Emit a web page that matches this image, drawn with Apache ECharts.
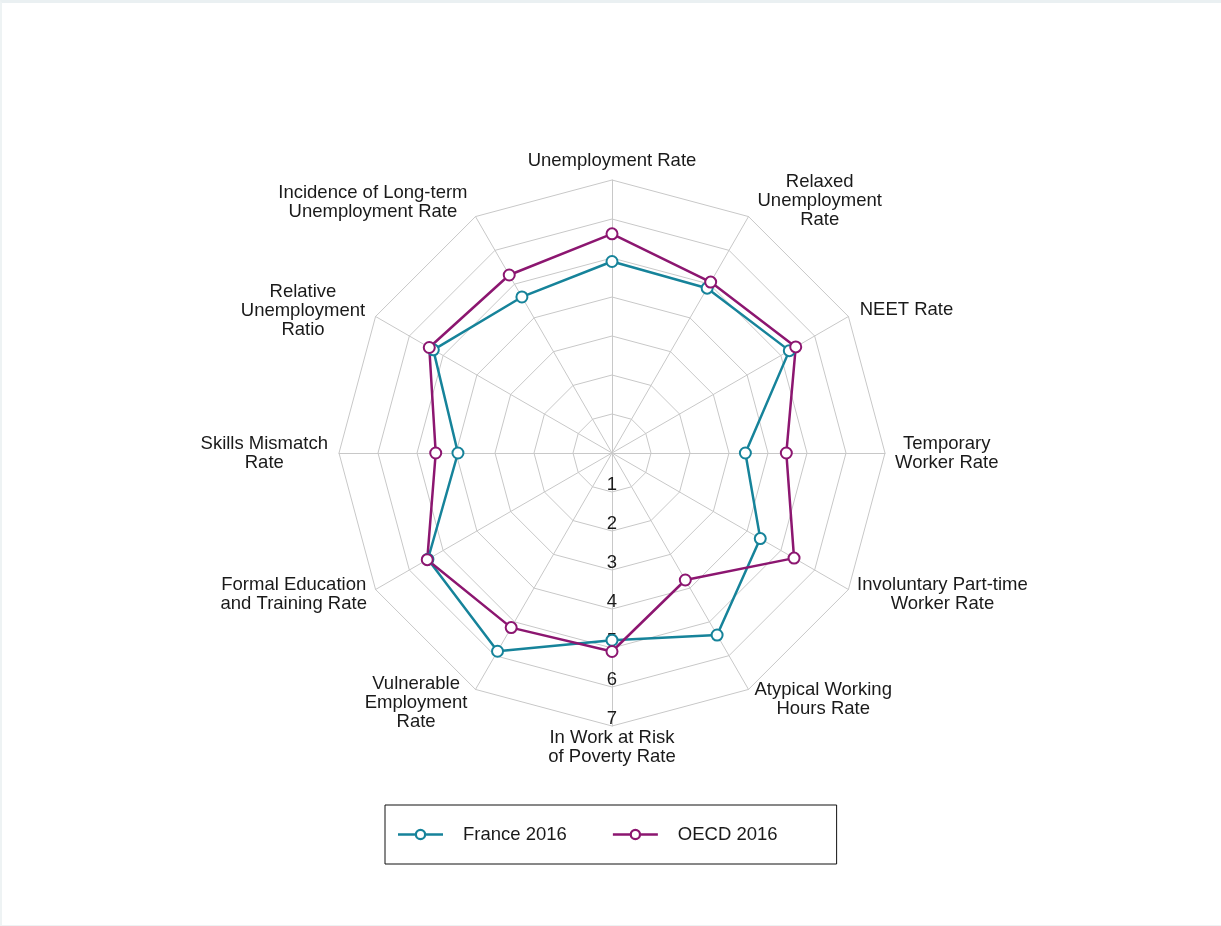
<!DOCTYPE html>
<html>
<head>
<meta charset="utf-8">
<script src="https://cdn.jsdelivr.net/npm/echarts@6/dist/echarts.min.js"></script>
<style>
  html, body { margin: 0; padding: 0; background: #ffffff; }
  #frame { position: absolute; left: 0; top: 0; width: 1219px; height: 922px;
           border-top: 3px solid #eaf0f2; border-left: 2px solid #eef3f4; border-bottom: 1px solid #eef2f3; }
  #chart { position: absolute; left: 0; top: 0; width: 1221px; height: 926px; }
</style>
</head>
<body>
<div id="frame"></div>
<div id="chart"></div>
<script>
// ---- data (clockwise from the top, as in the picture) ----
const categories = [
  'Unemployment Rate',
  'Relaxed\nUnemployment\nRate',
  'NEET Rate',
  'Temporary\nWorker Rate',
  'Involuntary Part-time\nWorker Rate',
  'Atypical Working\nHours Rate',
  'In Work at Risk\nof Poverty Rate',
  'Vulnerable\nEmployment\nRate',
  'Formal Education\nand Training Rate',
  'Skills Mismatch\nRate',
  'Relative\nUnemployment\nRatio',
  'Incidence of Long-term\nUnemployment Rate'
];
const france2016 = [4.91, 4.88, 5.25, 3.42, 4.39, 5.39, 4.80, 5.87, 5.45, 3.95, 5.29, 4.62];
const oecd2016   = [5.62, 5.06, 5.44, 4.47, 5.39, 3.76, 5.09, 5.17, 5.47, 4.52, 5.41, 5.27];
const seriesNames = ['France 2016', 'OECD 2016'];
const scaleMin = 0;
const scaleMax = 7;
const scaleSteps = 7;

// ---- styling ----
const TEAL = '#16839a';
const PURPLE = '#8c1670';
const TEXT = '#1a1a1a';
const GRID = '#c8c8c8';
const FONT = "'Liberation Sans', Arial, sans-serif";
const gapByIndex = [10, 18, 13, 10, 10, 12, 2, 16, 10, 11, 12, 16];
const labelAxisIndex = 6; // axis carrying the 1..7 tick labels

// ECharts lays indicators out counter-clockwise; reorder so the picture reads clockwise
const n = categories.length;
const order = categories.map((_, i) => (n - i) % n);

const indicator = order.map(k => {
  const ind = { name: categories[k], min: scaleMin, max: scaleMax, axisNameGap: gapByIndex[k], nameGap: gapByIndex[k] };
  if (k === labelAxisIndex) {
    ind.axisLabel = {
      show: true, showMinLabel: false, margin: 0,
      align: 'center', verticalAlign: 'bottom',
      fontSize: 18.5, lineHeight: 15, color: TEXT, fontFamily: FONT
    };
  }
  return ind;
});

const legendIcon = 'path://M0 4.75H17.2V7.25H0Z M27.8 4.75H45V7.25H27.8Z ' +
  'M16.75 6A5.75 5.75 0 1 1 28.25 6A5.75 5.75 0 1 1 16.75 6Z ' +
  'M26 6A3.5 3.5 0 1 0 19 6A3.5 3.5 0 1 0 26 6Z';

const colors = [TEAL, PURPLE];
const values = [france2016, oecd2016];

const chart = echarts.init(document.getElementById('chart'), null, { renderer: 'canvas' });
chart.setOption({
  backgroundColor: 'transparent',
  animation: false,
  color: colors,
  textStyle: { fontFamily: FONT, color: TEXT },
  legend: {
    left: 385, top: 805,
    orient: 'horizontal',
    padding: [20, 59, 20, 13],
    borderColor: '#111', borderWidth: 1,
    itemWidth: 45, itemHeight: 12, itemGap: 46,
    selectedMode: false,
    textStyle: { fontSize: 18.5, color: TEXT, fontFamily: FONT, padding: [0, 0, 0, 15] },
    data: seriesNames.map((name, i) => ({
      name: name, icon: legendIcon,
      itemStyle: { color: colors[i], borderWidth: 0 }
    }))
  },
  radar: {
    center: [612, 453],
    radius: 273,
    startAngle: 90,
    splitNumber: scaleSteps,
    shape: 'polygon',
    indicator: indicator,
    axisNameGap: 10,
    axisName: {
      color: TEXT,
      fontFamily: FONT,
      fontSize: 18.5,
      formatter: name => name.split('\n').map(l => '{c|' + l + '}').join('\n'),
      rich: { c: { align: 'center', fontSize: 18.5, lineHeight: 19, color: TEXT, fontFamily: FONT } }
    },
    splitLine: { lineStyle: { color: GRID, width: 1 } },
    splitArea: { show: false },
    axisLine: { lineStyle: { color: GRID, width: 1 } },
    axisTick: { show: false },
    axisLabel: { show: false }
  },
  series: [{
    type: 'radar',
    symbol: 'emptyCircle',
    symbolSize: 11,
    lineStyle: { width: 2.5 },
    data: seriesNames.map((name, i) => ({
      name: name,
      value: order.map(k => values[i][k]),
      itemStyle: { color: colors[i] },
      lineStyle: { color: colors[i], width: 2.5 }
    }))
  }]
});
</script>
</body>
</html>
